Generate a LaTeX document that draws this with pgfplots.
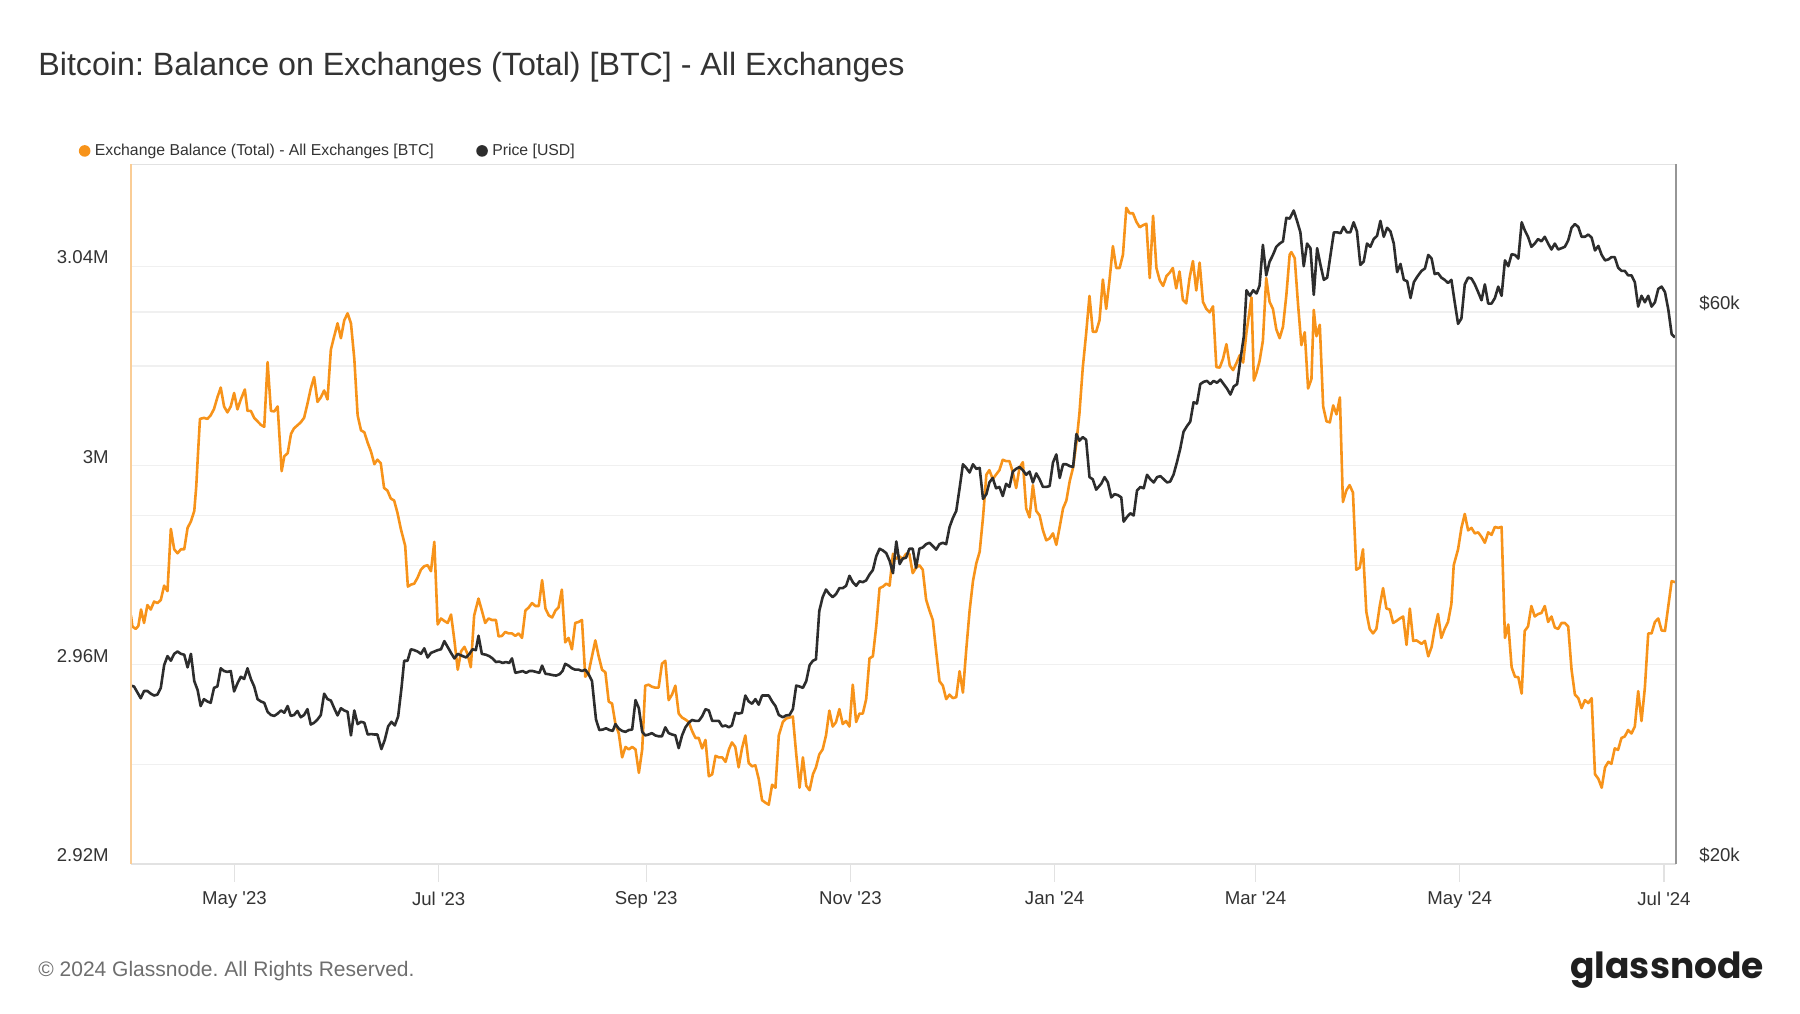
\documentclass[border=0pt]{standalone}
\usepackage{pgfplots}
\pgfplotsset{compat=1.18}
\usepackage{fontspec}
\setmainfont{Liberation Sans}
\newfontfamily\logofont{Poppins}
\frenchspacing
\definecolor{btcorange}{RGB}{247,147,26}
\definecolor{pricegray}{RGB}{45,45,45}
\definecolor{gridc}{RGB}{240,240,240}
\definecolor{framec}{RGB}{226,226,226}
\definecolor{textc}{RGB}{51,51,51}
\definecolor{footc}{RGB}{110,110,110}
\definecolor{leftc}{RGB}{250,205,150}
\definecolor{rightc}{RGB}{150,150,150}
\pgfplotsset{base/.style={at={(65.5pt,74.55pt)}, anchor=south west, scale only axis,
  width=772.5pt, height=349.7pt, xmin=-30.9, xmax=430.6,
  tick label style={font=\fontsize{9.3}{11}\selectfont, text=textc}}}
\begin{document}
\begin{tikzpicture}[x=1pt,y=1pt]
\path[use as bounding box] (0,0) rectangle (900,506.5);
\node[anchor=base west, inner sep=0pt, font=\fontsize{16.1}{19}\selectfont, text=textc] at (19,468.8) {Bitcoin: Balance on Exchanges (Total) [BTC] - All Exchanges};
\node[anchor=base west, inner sep=0pt, font=\fontsize{10.5}{12}\selectfont, text=footc] at (19,18.5) {© 2024 Glassnode. All Rights Reserved.};
\node[anchor=base west, inner sep=0pt, font=\logofont\bfseries\fontsize{18}{21}\selectfont, text=black!88] at (785,17.5) {glassnode};

% right log axis: grid + labels
\begin{axis}[base, ymode=log, ymin=20000, ymax=80500,
  axis x line=none, axis y line*=right, axis line style={draw=none},
  ytick={20000,40000,60000}, yticklabels={\$20k,,\$60k},
  ymajorgrids, grid style={gridc, line width=0.7pt},
  major tick length=0pt,
  yticklabel style={inner sep=0pt, anchor=west, xshift=11.5pt, yshift=4.5pt}]
\end{axis}

% left axis: exchange balance
\begin{axis}[base, ymin=2920000, ymax=3060500,
  scaled y ticks=false,
  axis line style={draw=none},
  xtick={0,61,123,184,245,305,366,427},
  xticklabels={May \textquotesingle23,Jul \textquotesingle23,Sep \textquotesingle23,Nov \textquotesingle23,Jan \textquotesingle24,Mar \textquotesingle24,May \textquotesingle24,Jul \textquotesingle24},
  ytick={2920000,2940000,2960000,2980000,3000000,3020000,3040000},
  yticklabels={2.92M,,2.96M,,3M,,3.04M},
  xtick pos=bottom, ytick pos=left, tick align=outside,
  major tick length=9pt,
  xtick style={draw=framec, line width=0.6pt}, ytick style={draw=none},
  ymajorgrids, grid style={gridc, line width=0.7pt},
  yticklabel style={inner sep=0pt, anchor=east, xshift=-2pt, yshift=4.5pt},
  xticklabel style={inner sep=0pt, yshift=-4.8pt},
  legend style={at={(axis description cs:-0.0340,1.0194)}, anchor=west, draw=none, fill=none,
    legend columns=2, font=\fontsize{7.9}{9}\selectfont, text=textc, inner sep=0pt,
    /tikz/every even column/.append style={column sep=19pt},
    nodes={inner sep=2.2pt}},
  legend image code/.code={\fill[#1] (2.9pt,0pt) circle (2.9pt);},
  legend cell align=left]
\addlegendimage{btcorange, draw=none, fill=btcorange}
\addlegendentry{Exchange Balance (Total) - All Exchanges [BTC]}
\addlegendimage{pricegray, draw=none, fill=pricegray}
\addlegendentry{Price [USD]}
\addplot[forget plot, btcorange, line width=1.3pt, line join=round] coordinates {
(-30.9,2969900) (-30.5,2967700) (-29.5,2967200) (-28.7,2967800) (-27.9,2971100) (-27.0,2968400)
(-26.0,2972000) (-25.0,2971100) (-24.0,2972700) (-23.0,2972400) (-22.0,2973000) (-21.0,2975900)
(-20.0,2974800) (-19.0,2987300) (-18.0,2983200) (-17.0,2982400) (-16.0,2983200) (-15.0,2983200)
(-14.0,2987500) (-13.0,2988800) (-12.0,2990900) (-11.4,2995900) (-10.9,3002300) (-10.3,3009400)
(-9.1,3009600) (-8.1,3009400) (-7.1,3010100) (-6.1,3011400) (-5.1,3013700) (-4.1,3015700)
(-3.1,3011900) (-2.1,3010700) (-1.1,3011900) (-0.1,3014600) (0.9,3011300) (1.9,3013300)
(3.1,3015300) (3.9,3011000) (4.9,3011000) (5.9,3009600) (6.9,3008900) (7.9,3008200)
(8.9,3007800) (9.9,3020800) (10.9,3011000) (11.9,3010900) (12.9,3011900) (14.1,2998900)
(14.9,3001900) (15.9,3002500) (16.9,3006400) (17.8,3007500) (18.8,3008100) (19.8,3008700)
(20.8,3009600) (21.8,3012400) (22.8,3015500) (23.8,3017800) (24.8,3012800) (25.8,3013700)
(26.8,3015100) (27.8,3013300) (28.8,3023300) (29.8,3026000) (30.8,3028600) (31.8,3025600)
(32.8,3029200) (33.8,3030600) (34.8,3028600) (35.8,3021500) (36.8,3010100) (37.8,3007100)
(38.8,3006700) (39.8,3004600) (40.8,3002800) (41.8,3000300) (42.7,3001200) (43.7,3000500)
(44.7,2995500) (45.7,2995000) (46.7,2993400) (47.7,2993000) (48.7,2990500) (49.7,2987300)
(51.0,2983900) (51.8,2975700) (52.7,2976100) (53.7,2976300) (54.7,2977500) (55.7,2979100)
(56.7,2979800) (57.7,2980000) (58.7,2978800) (59.7,2984700) (60.7,2968100) (61.7,2969300)
(62.7,2968800) (63.7,2968400) (64.7,2970100) (65.7,2964900) (66.7,2959000)
(67.7,2962700) (68.7,2963600) (69.6,2962200) (70.6,2959500) (71.6,2969900) (72.9,2973300)
(73.9,2970900) (74.9,2968400) (75.9,2969300) (76.9,2969000) (78.1,2969000) (78.9,2965700)
(79.9,2965800) (80.9,2966600) (81.9,2966300) (82.9,2966300) (83.9,2965800) (84.9,2966300)
(85.9,2965400) (86.9,2970900) (87.9,2971500) (88.9,2972400) (89.9,2971800) (90.9,2971800)
(91.9,2977000) (92.9,2971300) (93.9,2969900) (94.9,2969500) (95.9,2970900) (96.8,2971500)
(97.8,2975100) (98.8,2964500) (99.8,2965400) (100.8,2963100) (101.8,2968400) (102.8,2968600)
(103.8,2969000) (104.8,2957600) (105.8,2958500) (106.8,2961700) (107.8,2964900) (108.8,2961700)
(109.8,2959000) (110.8,2958500) (111.8,2952600) (112.8,2952200) (113.8,2948100) (114.8,2946200)
(115.8,2941400) (116.8,2943500) (117.8,2943000) (118.8,2943500) (119.8,2943000) (120.8,2938300)
(121.8,2943000) (122.7,2955800) (123.7,2956000) (124.7,2955600) (125.7,2955400) (126.7,2955400)
(127.7,2960200) (128.7,2960800) (129.7,2952900) (130.7,2954000) (131.7,2955800) (132.7,2950200)
(133.7,2949400) (134.7,2949000) (135.7,2948500) (136.7,2946700) (137.7,2945300) (138.7,2945300)
(139.7,2943200) (140.7,2944900) (141.7,2937600) (142.7,2938000) (143.7,2941700) (144.7,2941400)
(145.7,2941400) (146.7,2940500) (147.7,2943000) (148.6,2944400) (149.6,2943500) (150.6,2939400)
(151.6,2943200) (152.6,2945800) (153.6,2940300) (154.6,2939600) (155.6,2939800) (156.6,2937100)
(157.6,2932800) (158.6,2932300) (159.6,2931900) (160.6,2935900) (161.6,2935300) (162.6,2945800)
(163.8,2948500) (164.8,2949200) (165.8,2949400) (166.8,2949600) (167.8,2942100) (168.8,2935300)
(169.8,2941400) (170.8,2935700) (171.8,2934800) (172.8,2938000) (173.7,2939400) (174.7,2942000)
(175.7,2943000) (176.7,2945800) (177.7,2950800) (178.7,2947600) (179.7,2948500) (180.7,2951100)
(181.7,2948100) (182.7,2948700) (183.7,2947600) (184.7,2956000) (185.7,2948500) (186.7,2950200)
(187.7,2950200) (188.7,2953100) (189.7,2961300) (190.7,2961700) (191.7,2967700) (192.7,2975400)
(193.7,2975700) (194.7,2976300) (195.7,2975900) (196.7,2982300) (197.7,2981300) (198.7,2981800)
(199.6,2981200) (200.6,2982300) (201.6,2982300) (202.6,2978400) (203.6,2979500) (204.6,2980000)
(205.6,2979100) (206.6,2973100) (207.6,2970900) (208.6,2969000) (209.6,2962700) (210.6,2956700)
(211.6,2955800) (212.6,2953100) (213.6,2954000) (214.6,2953300) (215.6,2953500) (216.6,2958700)
(217.6,2954400) (218.6,2963100) (219.6,2970900) (220.6,2976800) (221.6,2980400) (222.6,2982700)
(223.6,2989600) (224.6,2998200) (225.5,2999100) (226.5,2997300) (227.5,2998200) (228.5,2999100)
(229.5,3001200) (230.5,3000900) (231.5,3000900) (232.5,2998700) (233.5,2995500) (234.5,2999600)
(235.5,3000700) (236.5,2991400) (237.5,2989600) (238.5,2996100) (239.5,2990900) (240.5,2990000)
(241.5,2987000) (242.5,2985000) (243.5,2985400) (244.5,2986400) (245.5,2984100) (246.5,2987700)
(247.5,2991400) (248.5,2993000) (249.5,2996900) (250.5,2999600) (251.5,3004600) (252.4,3010500)
(253.4,3019700) (254.4,3026500) (255.4,3034100) (256.4,3026900) (257.4,3026900)
(258.4,3029200) (259.4,3037400) (260.4,3031500) (261.4,3037400) (262.4,3044100) (263.4,3039700)
(264.4,3039700) (265.4,3042400) (266.4,3051800) (267.4,3050700) (268.4,3050700) (269.4,3049000)
(270.4,3047900) (271.4,3048300) (272.4,3048600) (273.4,3037700) (274.4,3050200) (275.4,3039700)
(276.4,3037200) (277.4,3036100) (278.4,3038100) (279.4,3038800) (280.3,3039700) (281.3,3035600)
(282.3,3039000) (283.3,3033300) (284.3,3032600) (285.3,3037700) (286.3,3041100) (287.3,3035200)
(288.3,3040800) (289.3,3032900) (290.3,3031500) (291.3,3030800) (292.3,3032000) (293.3,3019800)
(294.3,3019700) (295.3,3021500) (296.3,3024400) (297.3,3020100) (298.3,3019200) (299.3,3020600)
(300.3,3022200) (301.3,3020700) (302.3,3026800) (303.3,3031500) (303.8,3033800) (304.5,3017100)
(305.3,3018700) (306.2,3021000) (307.2,3025100) (308.2,3037700) (309.2,3032900) (310.2,3031500)
(311.2,3027400) (312.2,3025600) (313.2,3027900) (314.2,3034200) (315.2,3042400) (315.7,3042900)
(316.7,3041700) (317.7,3032400) (318.7,3024200) (319.7,3026800) (320.7,3015500) (321.7,3017400)
(322.4,3031300) (323.2,3026000) (324.2,3028300) (325.2,3011900) (326.2,3008900) (327.2,3008700)
(328.2,3012100) (329.2,3010300) (330.2,3013700) (331.1,2992700) (332.1,2995000) (333.1,2996100)
(334.1,2994600) (335.1,2979100) (336.1,2979500) (337.1,2983200) (338.1,2970600) (339.1,2967200)
(340.1,2966300) (341.1,2967200) (342.1,2971800) (343.1,2975400) (344.1,2971300) (345.1,2971100)
(346.1,2968400) (347.1,2968800) (348.1,2969300) (349.1,2969700) (350.1,2964000) (351.1,2971300)
(352.1,2964800) (353.1,2964900)
(354.6,2964200) (355.6,2964800) (356.6,2961700) (357.6,2963600) (358.5,2967200) (359.5,2970200)
(360.5,2965400) (361.5,2967200) (362.5,2968600) (363.5,2972200) (364.2,2980000) (365.5,2983200)
(366.5,2987500) (367.5,2990300) (368.5,2987000) (369.5,2987500) (370.5,2986400) (371.5,2986600)
(372.5,2985700) (373.5,2984500) (374.5,2986600) (375.5,2986100) (376.5,2987700) (377.5,2987500)
(378.5,2987700) (379.5,2965400) (380.5,2968100) (381.5,2959500) (382.5,2957600) (383.5,2957500)
(384.5,2954200) (385.4,2966800) (386.4,2967700) (387.4,2971800) (388.4,2969700) (389.4,2970200)
(390.4,2970400) (391.4,2971800) (392.4,2968600) (393.4,2969700) (394.4,2967500) (395.4,2967200)
(396.4,2968400) (397.4,2968400) (398.4,2967700) (399.4,2959000) (400.4,2954000) (401.4,2953300)
(402.4,2951300) (403.4,2952900) (404.4,2952300) (405.4,2953300) (406.4,2938000) (407.4,2937100)
(408.4,2935300) (409.4,2939400) (410.4,2940500) (411.3,2940100) (412.3,2943200) (413.3,2942900)
(414.3,2945300) (415.3,2945600) (416.3,2946900) (417.3,2946200) (418.3,2947600) (419.3,2954700)
(420.3,2948700) (421.3,2955400) (422.3,2966300) (423.3,2966300) (424.3,2968600) (425.3,2969300)
(426.3,2966900) (427.3,2966800) (428.3,2971800) (429.3,2976800) (430.3,2976600)
};
\end{axis}

% price line
\begin{axis}[base, ymode=log, ymin=20000, ymax=80500, hide axis, clip=false]
\addplot[pricegray, line width=1.3pt, line join=round] coordinates {
(-30.9,28519) (-30.0,28468) (-29.0,28139) (-28.0,27810) (-27.0,28215) (-26.0,28215) (-25.0,28064)
(-24.0,27962) (-23.0,28013) (-22.0,28392) (-21.0,29704) (-20.0,30244) (-19.0,29969) (-18.0,30382)
(-17.0,30521) (-16.0,30382) (-15.0,30327) (-14.0,29571) (-13.0,30382) (-12.0,28776) (-11.0,28266)
(-10.1,27382) (-9.1,27760) (-8.1,27634) (-7.1,27558) (-6.1,28392) (-5.1,28468) (-4.1,29518)
(-3.1,29359) (-2.1,29306) (-1.1,29359) (-0.1,28190) (0.9,28645) (1.9,29025) (2.9,28898)
(3.9,29518) (4.9,28898) (5.9,28468) (6.9,27760) (7.9,27634) (8.9,27558) (9.9,27067)
(10.9,26898) (11.9,26849) (12.9,26970) (13.9,27140) (14.9,27019) (15.9,27382) (16.8,26849)
(17.8,26898) (18.8,27116) (19.8,26777) (20.8,26898) (21.8,27212) (22.8,26389) (23.8,26486)
(24.8,26656) (25.8,26898) (26.8,28064) (27.8,27760) (28.8,27684) (29.8,27261) (30.8,26874)
(31.8,27261) (32.8,27140) (33.8,27067) (34.8,25826) (35.8,27140) (36.8,26414) (37.8,26535)
(38.8,26486) (39.8,25872) (40.8,25895) (41.8,25872) (42.7,25872) (43.9,25132) (44.9,25595)
(45.9,26293) (46.9,26535) (47.9,26341) (48.9,26825) (49.9,28392) (50.7,29969) (51.7,29969)
(52.7,30660) (53.7,30605) (54.7,30521) (55.7,30382) (56.7,30716) (57.7,30161) (58.7,30438)
(59.7,30521) (60.7,30605) (61.7,30660) (62.7,31158) (63.7,30798) (64.7,30438) (65.7,30105)
(66.7,30382)
(67.2,30327) (68.2,30244) (69.2,30161) (70.2,30382) (71.1,30660) (72.1,30605) (72.9,31495)
(73.9,30382) (75.1,30327) (76.1,30244) (77.1,30105) (78.1,29890) (79.1,29916) (80.1,29836)
(81.1,29890) (82.1,29836) (82.9,30105) (83.9,29253) (85.1,29306) (86.1,29359) (87.1,29253)
(88.1,29359) (89.1,29359) (90.1,29306) (91.1,29253) (91.9,29677) (92.9,29200) (93.9,29173)
(95.1,29120) (96.1,29094) (97.1,29173) (98.0,29359) (98.8,29783) (99.8,29677) (100.8,29518)
(101.8,29439) (102.8,29439) (103.8,29359) (104.8,29439) (105.8,29173) (106.8,28776) (107.5,27507)
(108.0,26656) (109.0,26104) (110.0,26127) (111.0,26197) (112.0,26104) (113.0,26058) (113.8,26414)
(114.8,26174) (115.8,26058) (116.8,26011) (117.8,26104) (118.8,26127) (119.8,27709) (120.8,27261)
(121.8,26011) (122.7,25826) (123.7,25872) (124.7,25942) (125.7,25826) (126.7,25780) (127.7,25780)
(128.7,26244) (129.7,25942) (130.7,25872) (131.7,25826) (132.7,25178) (133.7,25826) (134.7,26244)
(135.7,26486) (136.7,26632) (137.7,26583) (138.7,26583) (139.7,26825) (140.7,27212) (141.7,27140)
(142.7,26583) (143.7,26583) (144.7,26583) (145.7,26293) (146.7,26341) (147.7,26244) (148.6,26341)
(149.6,27019) (150.6,26970) (151.6,27019) (152.6,27962) (153.6,27634) (154.6,27507) (155.6,27760)
(156.6,27457) (157.6,27962) (158.6,27962) (159.6,27962) (160.6,27634) (161.6,27382) (162.6,26898)
(163.8,26777) (164.8,26874) (165.8,26898) (166.8,27212) (167.8,28519) (168.8,28468) (169.8,28392)
(170.8,28776) (171.8,29704) (172.8,29969) (173.7,30050) (174.7,33101) (175.7,34011) (176.7,34535)
(177.7,34224) (178.7,34011) (179.7,34224) (180.7,34630) (181.7,34630) (182.7,34788) (183.7,35487)
(184.7,35042) (185.7,34788) (186.7,35105) (187.7,35042) (188.7,35169) (189.7,35582) (190.7,35899)
(191.7,36892) (192.7,37458) (193.7,37325) (194.7,37126) (195.7,36560) (196.7,35677) (197.7,38005)
(198.7,36327) (199.6,36726) (200.6,36792) (201.6,37458) (202.6,37458) (203.6,36062) (204.6,37458)
(205.6,37558) (206.6,37797) (207.6,37901) (208.6,37659) (209.6,37392) (210.6,37797) (211.6,37901)
(212.6,37797) (213.6,39112) (214.6,39828) (215.6,40376) (216.6,42242) (217.6,44310) (218.6,43991)
(219.6,43593) (220.6,44310) (221.6,43912) (222.6,43991) (223.6,41361) (224.6,41748) (225.5,42736)
(226.5,43118) (227.5,42242) (228.5,42356) (229.5,41596) (230.5,42622) (231.5,42356) (232.5,43672)
(233.5,43912) (234.5,44071) (235.5,43792) (236.5,43396) (237.5,43672) (238.5,42736) (239.5,43513)
(240.5,43002) (241.5,42356) (242.5,42356) (243.5,42432) (244.5,44469) (245.5,45191) (246.5,43118)
(247.5,44310) (248.5,44310) (249.5,44151) (250.5,44071) (251.5,47063) (252.4,46439) (253.4,46772)
(254.4,46522) (255.4,43197) (256.4,43002) (257.4,42128)
(258.9,42622) (259.9,43197) (260.9,42736) (261.9,41482) (262.9,41748) (263.9,41672) (264.9,41482)
(265.6,39537) (266.6,39902) (267.6,40194) (268.6,40011) (269.6,42052) (270.6,42356) (271.6,42242)
(272.6,43396) (273.6,43002) (274.6,42736) (275.6,43197) (276.6,43277) (277.6,43002) (278.6,42736)
(279.5,42812) (280.5,43396) (281.5,44469) (282.5,45690) (283.5,47277) (284.5,47800) (285.5,48235)
(286.5,50141) (287.5,50005) (288.5,51979) (289.5,52217) (290.5,52312) (291.5,51979) (292.5,52312)
(293.5,52122) (294.5,52455) (295.5,51979) (296.5,51507) (297.5,50916) (298.5,51741) (299.5,51979)
(300.5,54627) (301.5,57151) (302.3,62663) (303.3,61977) (304.3,62663) (305.3,62263) (306.2,63234)
(307.2,68582) (308.2,64546) (309.2,66332) (310.2,67226) (311.2,68332) (312.2,68770) (313.2,69082)
(314.2,72401) (315.2,72270) (316.4,73446) (317.4,71944) (318.4,70330) (319.4,65735) (320.4,68770)
(321.4,68144) (322.4,62092) (323.4,68144) (324.4,65914) (325.4,63975) (326.4,64260) (327.4,67226)
(328.4,70330) (329.4,70330) (330.4,70205) (331.3,71095) (332.3,70330) (333.3,70330) (334.3,71748)
(335.3,70455) (336.3,65914) (337.3,66332) (338.3,68770) (339.3,68332) (340.3,69394) (341.3,69832)
(342.3,71944) (343.3,69707) (344.3,70964) (345.3,70455) (346.3,68770) (347.3,64959) (348.3,66033)
(349.3,63975) (350.3,63804) (351.3,61702) (352.3,63690) (353.3,64375)
(354.6,65138) (355.6,65436) (356.6,67226) (357.6,66750) (358.5,64720) (359.5,64839) (360.5,64260)
(361.5,63975) (362.5,63576) (363.5,63975) (364.5,61180) (365.5,58610) (366.5,59244) (367.5,63405)
(368.5,64260) (369.5,64146) (370.5,63405) (371.5,62435) (372.5,61425) (373.5,63405) (374.5,61023)
(375.5,61023) (376.5,61702) (377.5,63120) (378.5,61977) (379.5,66511) (380.5,65735) (381.5,67330)
(382.5,67226) (383.5,66750) (384.5,71748) (385.4,70643) (386.4,69707) (387.4,68332) (388.4,68770)
(389.4,69394) (390.4,69082) (391.4,69707) (392.4,68770) (393.4,67957) (394.4,68770) (395.4,67957)
(396.4,68144) (397.4,68332) (398.4,69207) (399.4,70964) (400.4,71487) (401.4,71095) (402.4,69707)
(403.4,69707) (404.4,70018) (405.4,69582) (406.4,67832) (407.4,68457) (408.4,67226) (409.4,66511)
(410.4,66630) (411.3,66929) (412.3,66929) (413.3,65556) (414.3,65138) (415.3,65138) (416.3,64546)
(417.3,64546) (418.3,63690) (419.3,60658) (420.3,61977) (421.3,61180) (422.3,61977) (423.3,60658)
(424.3,61180) (425.3,62834) (426.3,63120) (427.3,62435) (428.3,60305) (429.3,57410) (430.3,57047)
};
\draw[framec, line width=0.7pt] (rel axis cs:0,1) -- (rel axis cs:1,1);
\draw[framec, line width=0.7pt] (rel axis cs:0,0) -- (rel axis cs:1,0);
\draw[leftc, line width=0.9pt] (rel axis cs:0,0) -- (rel axis cs:0,1);
\draw[rightc, line width=0.9pt] (rel axis cs:1,0) -- (rel axis cs:1,1);
\end{axis}
\end{tikzpicture}
\end{document}
